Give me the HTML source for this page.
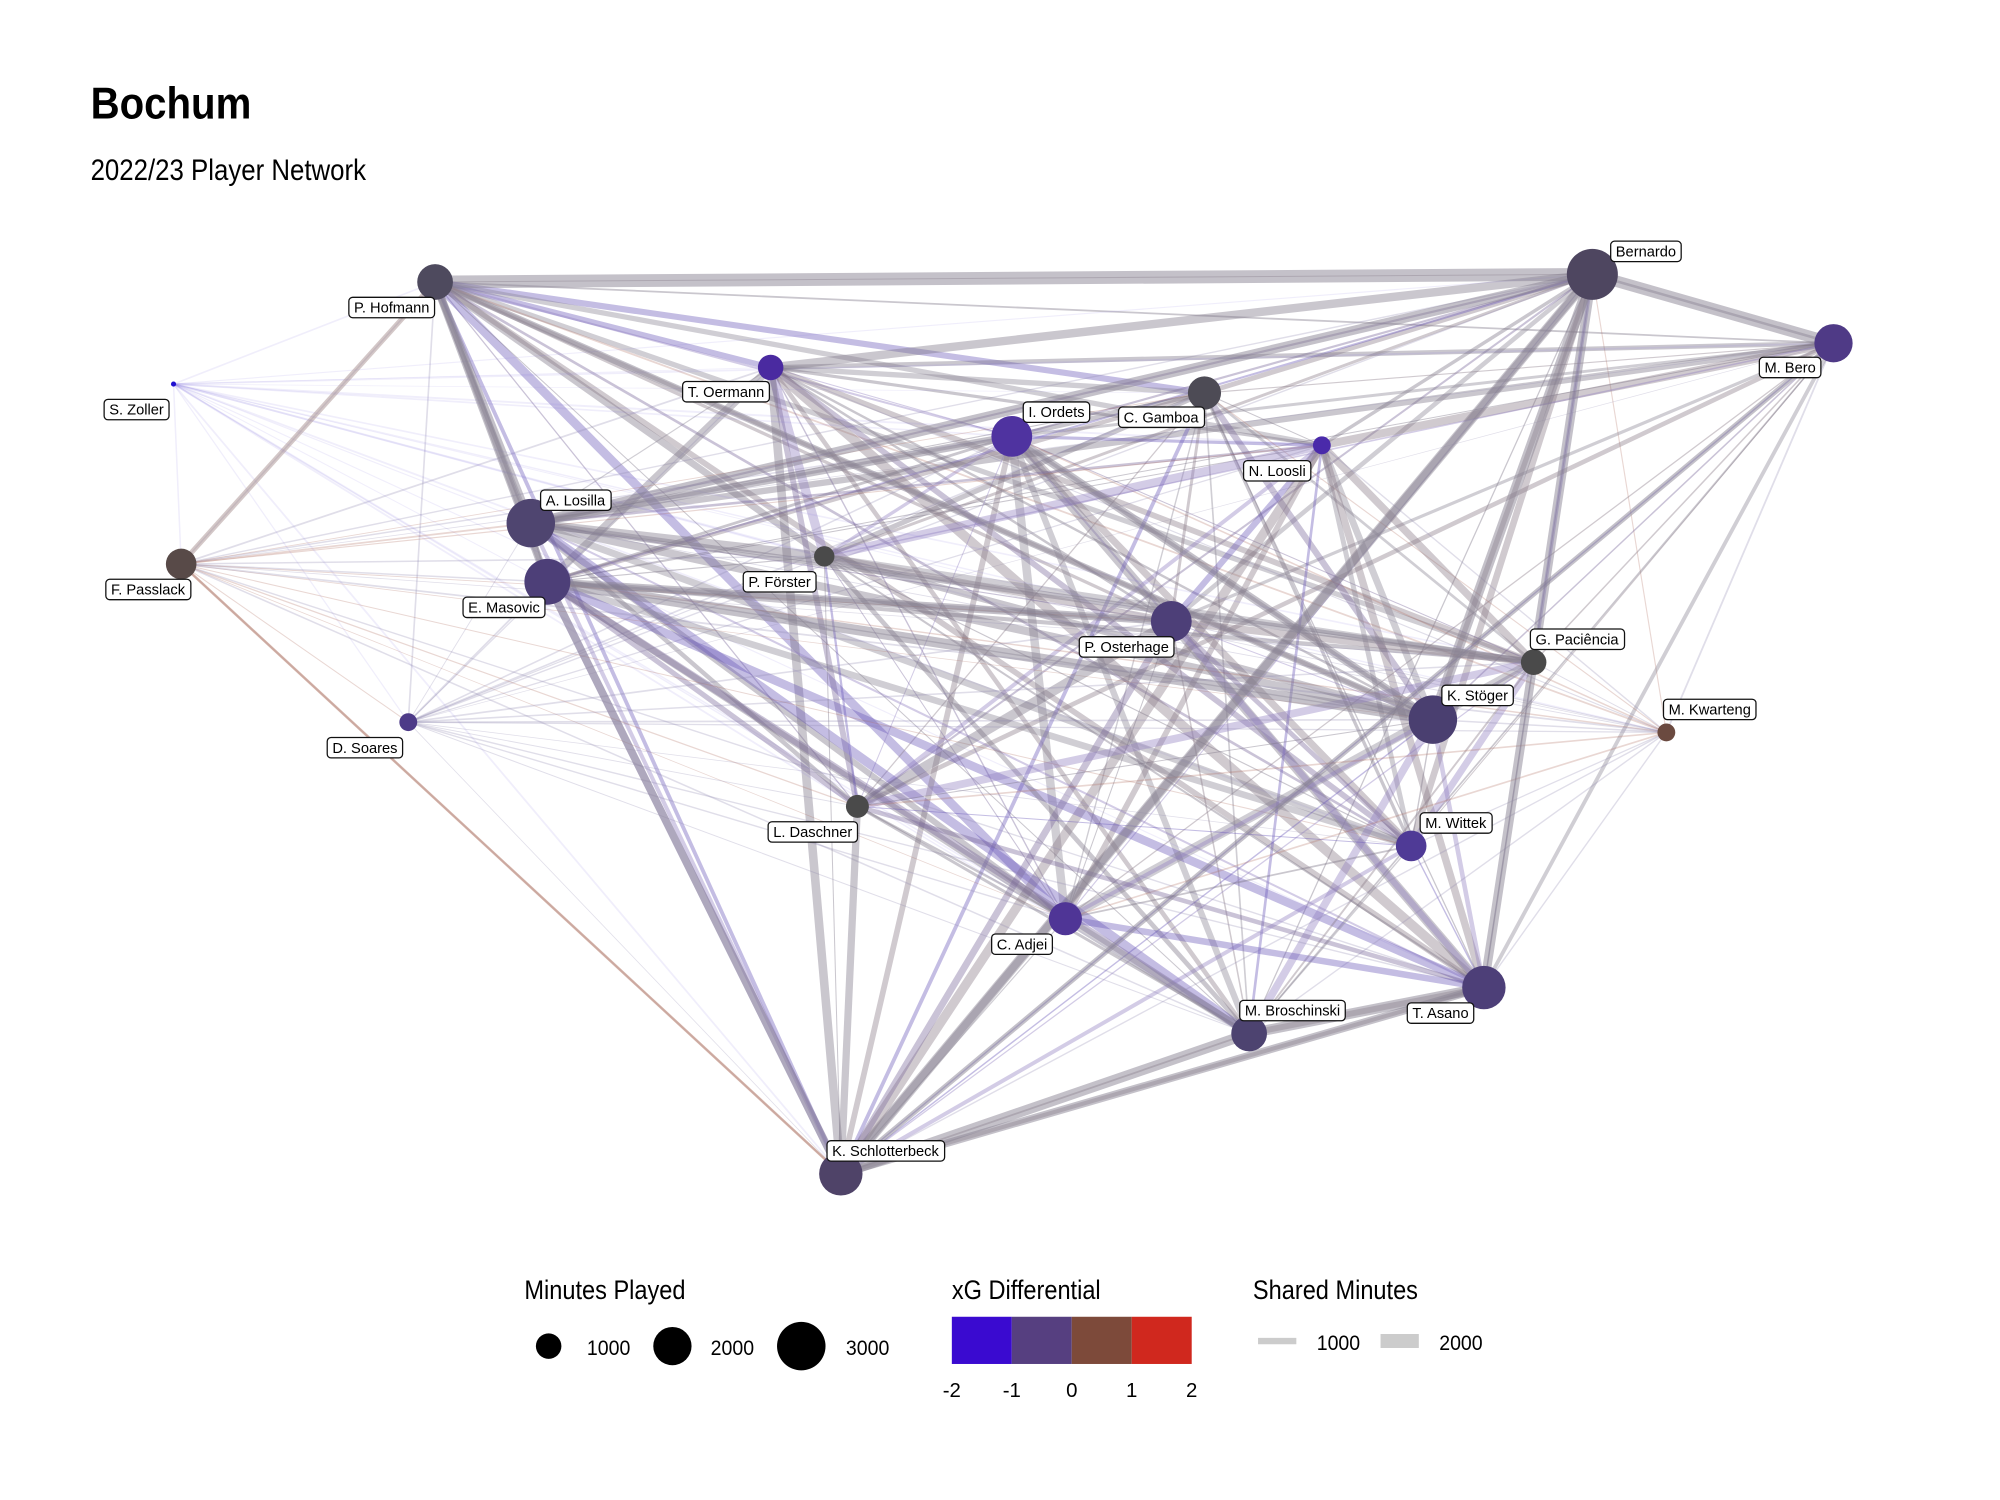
<!DOCTYPE html>
<html><head><meta charset="utf-8"><style>
html,body{margin:0;padding:0;background:#fff}
svg{display:block}
text{font-family:"Liberation Sans",sans-serif}
</style></head><body>
<svg id="s" width="2000" height="1500" viewBox="0 0 1567.5 1175.6" xmlns="http://www.w3.org/2000/svg">
<rect width="1567.5" height="1175.6" fill="#fff"/>
<text x="71" y="93" font-size="35" font-weight="bold" transform="translate(71 0) scale(0.9 1) translate(-71 0)">Bochum</text>
<text x="71" y="141" font-size="23" transform="translate(71 0) scale(0.88 1) translate(-71 0)">2022/23 Player Network</text>
<g id="edges"></g>
<g id="nodes"></g>
<g id="labels"></g>
<g font-size="21">
<text x="411" y="1018" transform="translate(411 0) scale(0.88 1) translate(-411 0)">Minutes Played</text>
<circle cx="430" cy="1055" r="10" fill="#000"/><text x="460" y="1062" font-size="17" transform="translate(460 0) scale(0.9 1) translate(-460 0)">1000</text>
<circle cx="527" cy="1055" r="15" fill="#000"/><text x="557" y="1062" font-size="17" transform="translate(557 0) scale(0.9 1) translate(-557 0)">2000</text>
<circle cx="628" cy="1055" r="19" fill="#000"/><text x="663" y="1062" font-size="17" transform="translate(663 0) scale(0.9 1) translate(-663 0)">3000</text>
<text x="746" y="1018" transform="translate(746 0) scale(0.88 1) translate(-746 0)">xG Differential</text>
<rect x="746" y="1032" width="47" height="37" fill="#3a0ad0"/>
<rect x="793" y="1032" width="47" height="37" fill="#563f80"/>
<rect x="840" y="1032" width="47" height="37" fill="#7d4a3a"/>
<rect x="887" y="1032" width="47" height="37" fill="#d0281e"/>
<g font-size="16" text-anchor="middle"><text x="746" y="1095">-2</text><text x="793" y="1095">-1</text><text x="840" y="1095">0</text><text x="887" y="1095">1</text><text x="934" y="1095">2</text></g>
<text x="982" y="1018" transform="translate(982 0) scale(0.88 1) translate(-982 0)">Shared Minutes</text>
<line x1="986" y1="1051" x2="1016" y2="1051" stroke="#ccc" stroke-width="5"/>
<text x="1032" y="1058" font-size="17" transform="translate(1032 0) scale(0.9 1) translate(-1032 0)">1000</text>
<line x1="1082" y1="1051" x2="1112" y2="1051" stroke="#ccc" stroke-width="11"/>
<text x="1128" y="1058" font-size="17" transform="translate(1128 0) scale(0.9 1) translate(-1128 0)">2000</text>
</g>
</svg>
<script>
var N={
Hof:[341,221,14,"#4e4a5e","P. Hofmann",307,241],
Ber:[1248,215,20,"#4e4660","Bernardo",1290,197],
Bero:[1437,269,15,"#4f3a86","M. Bero",1403,288],
Oer:[604,288,10,"#4a2aa0","T. Oermann",569,307],
Ord:[793,342,16,"#4f33a0","I. Ordets",828,323],
Gam:[944,308,13,"#4d4b55","C. Gamboa",910,327],
Loo:[1036,349,7,"#4a2aaa","N. Loosli",1001,369],
Zol:[136,301,2,"#2010d0","S. Zoller",107,321],
Los:[416,410,19,"#4f4570","A. Losilla",451,392],
Mas:[429,456,18,"#4d3f78","E. Masovic",395,476],
Pas:[142,442,12,"#584a48","F. Passlack",116,462],
For:[646,436,8,"#4a4a4a","P. Förster",611,456],
Ost:[918,487,16,"#4d3f78","P. Osterhage",883,507],
Pac:[1202,519,10,"#4a4a4a","G. Paciência",1236,501],
Sto:[1123,564,19,"#4a3f70","K. Stöger",1158,545],
Kwa:[1306,574,7,"#6b4a40","M. Kwarteng",1340,556],
Soa:[320,566,7,"#4d3a88","D. Soares",286,586],
Das:[672,632,9,"#4a4a4a","L. Daschner",637,652],
Wit:[1106,663,12,"#4f3a96","M. Wittek",1141,645],
Adj:[835,720,13,"#4f3596","C. Adjei",801,740],
Asa:[1163,774,17,"#4d3f78","T. Asano",1129,794],
Bro:[979,810,14,"#4d4370","M. Broschinski",1013,792],
Sch:[659,920,17,"#4f4368","K. Schlotterbeck",694,902]};
var ns="http://www.w3.org/2000/svg";
var E=document.getElementById("edges"),ND=document.getElementById("nodes"),L=document.getElementById("labels");
var keys=Object.keys(N);
var seed=7;function rnd(){seed=(seed*16807)%2147483647;return seed/2147483647;}
var weak={Zol:1,Kwa:1,Soa:1,Pas:1};
var cols=["#7a7484","#7a7484","#7a6a9a","#6c5ab8","#8a8494","#9080c0","#8a7a88"];
function line(a,b,w,c,o){var l=document.createElementNS(ns,"line");l.setAttribute("x1",a[0]);l.setAttribute("y1",a[1]);l.setAttribute("x2",b[0]);l.setAttribute("y2",b[1]);l.setAttribute("stroke",c);l.setAttribute("stroke-width",w);l.setAttribute("stroke-opacity",o);E.appendChild(l);}
for(var i=0;i<keys.length;i++)for(var j=i+1;j<keys.length;j++){
 var a=keys[i],b=keys[j];var r=rnd();
 var isw=weak[a]||weak[b];
 var w=isw?0.5+r*1.0:0.8+r*r*7;
 var c=cols[Math.floor(rnd()*cols.length)];
 var o=0.4;
 if(isw){c=(a=="Zol"||b=="Zol")?"#8070e0":(a=="Kwa"||b=="Kwa"||a=="Pas"||b=="Pas")&&rnd()<0.4?"#b07060":"#9088b0";o=(a=="Zol"||b=="Zol")?0.12:0.28;}
 line(N[a],N[b],w.toFixed(1),c,o);
}
var thick=[["Hof","Ber",10],["Ber","Bero",9],["Sch","Bro",8],["Bro","Asa",8],["Sch","Asa",6],["Mas","Sch",6],["Los","Ber",7],["Mas","Sto",8],["Ber","Sto",8],["Ber","Asa",7],["Hof","Los",6],["Ord","Sto",6],["Los","Ord",6],["Pas","Hof",4],["Sch","Ber",6],["Mas","Ost",6],["Hof","Sto",5],["Los","Pac",5],["Bero","Sch",4],["Hof","Mas",6]];
thick.forEach(function(t){line(N[t[0]],N[t[1]],t[2],t[0]=="Pas"?"#a89090":"#8a8494",0.5);});
line(N.Pas,N.Sch,2,"#c09080",0.7);
keys.forEach(function(k){var n=N[k];var c=document.createElementNS(ns,"circle");c.setAttribute("cx",n[0]);c.setAttribute("cy",n[1]);c.setAttribute("r",n[2]);c.setAttribute("fill",n[3]);ND.appendChild(c);
 var t=document.createElementNS(ns,"text");t.setAttribute("x",n[5]);t.setAttribute("y",n[6]+4);t.setAttribute("font-size","11.5");t.setAttribute("text-anchor","middle");t.textContent=n[4];L.appendChild(t);
 var bb=t.getBBox();var r=document.createElementNS(ns,"rect");r.setAttribute("x",bb.x-4);r.setAttribute("y",n[6]-8);r.setAttribute("width",bb.width+8);r.setAttribute("height",16);r.setAttribute("rx",3);r.setAttribute("fill","#fff");r.setAttribute("stroke","#111");r.setAttribute("stroke-width","1");L.insertBefore(r,t);});
</script>
</body></html>
